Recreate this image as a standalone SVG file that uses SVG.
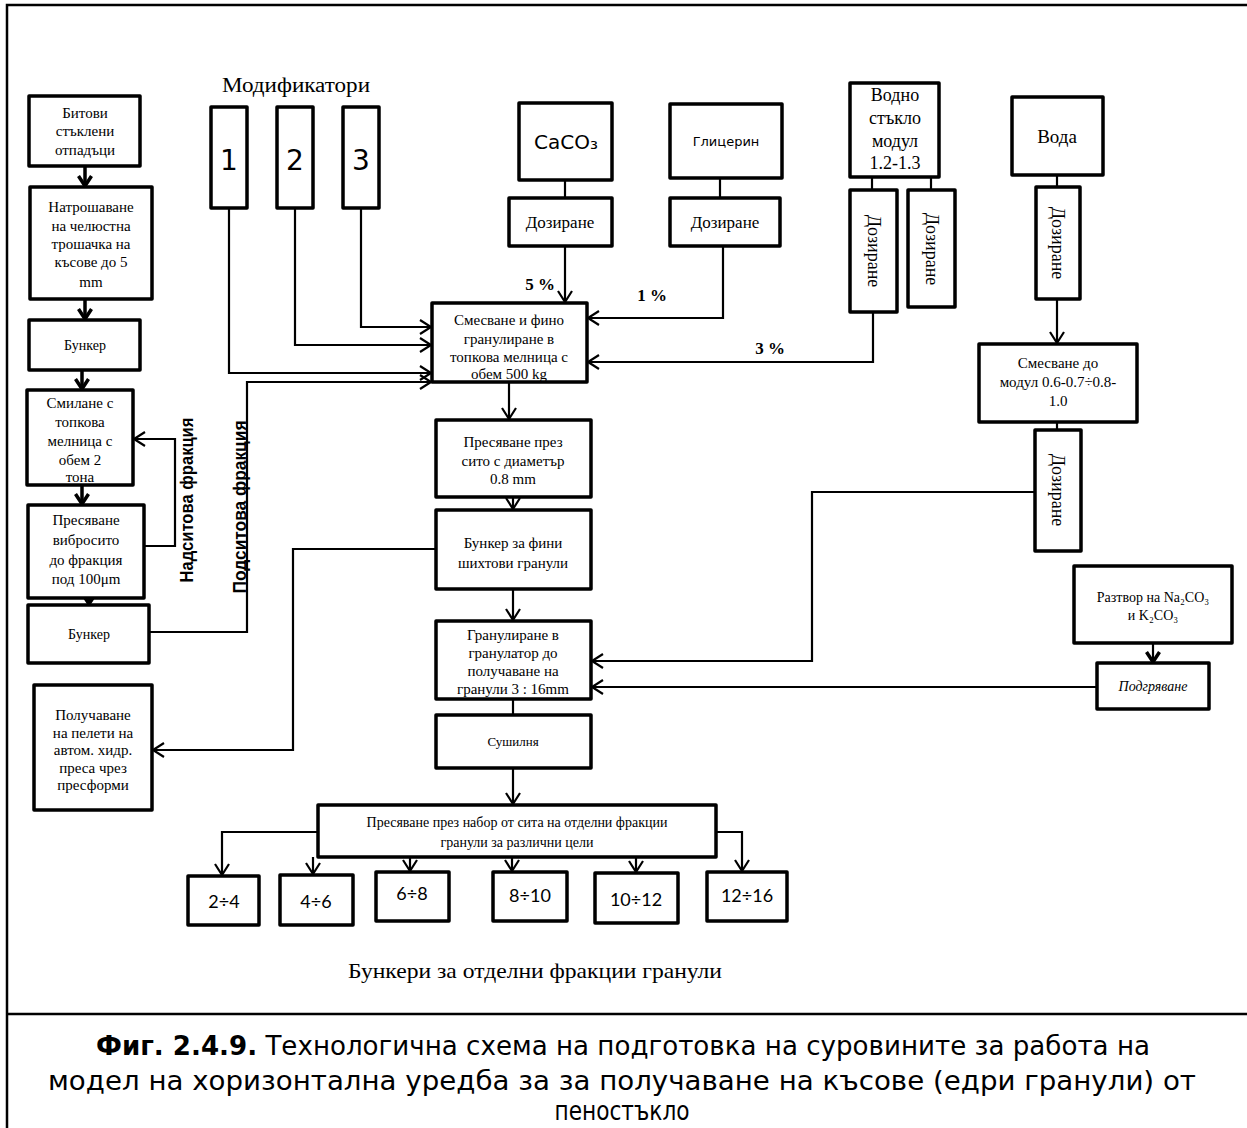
<svg xmlns="http://www.w3.org/2000/svg" width="1247" height="1128" viewBox="0 0 1247 1128">
<style>
.b{fill:#fff;stroke:#000;stroke-width:3.5;stroke-linejoin:round}
.t{font-family:"Liberation Serif","Times New Roman",serif;font-size:15px;fill:#000;text-anchor:middle}
.s{font-family:"DejaVu Sans","Verdana",sans-serif;fill:#000;text-anchor:middle}
.n{font-family:Lato,"Open Sans",sans-serif;font-size:18px;fill:#000;text-anchor:middle}
.c{fill:none;stroke:#000;stroke-width:2.2}
.ct{fill:none;stroke:#000;stroke-width:3.5}
.lb{font-family:"Liberation Serif",serif;font-weight:bold;font-size:17px;text-anchor:middle}
.rl{font-family:"Liberation Sans Narrow","Liberation Sans",sans-serif;font-weight:bold;font-size:18px;text-anchor:middle}
.cap{font-family:"DejaVu Sans",Verdana,sans-serif;font-size:26px;text-anchor:middle;fill:#000}
</style>
<defs>
<marker id="a" markerUnits="userSpaceOnUse" markerWidth="16" markerHeight="16" refX="13" refY="8" orient="auto">
<path d="M2,1 L13,8 L2,15" fill="none" stroke="#000" stroke-width="2.2"/>
</marker>
<marker id="at" markerUnits="userSpaceOnUse" markerWidth="16" markerHeight="16" refX="13" refY="8" orient="auto">
<path d="M3,1.5 L13,8 L3,14.5" fill="none" stroke="#000" stroke-width="3.5"/>
</marker>
</defs>

<g id="frame" fill="none" stroke="#000" stroke-width="2.5">
<path d="M7,1128 V5 H1247"/>
<path d="M7,1014 H1247"/>
</g>

<g id="connectors">
<path class="ct" d="M85,166 V186" marker-end="url(#at)"/>
<path class="ct" d="M85,299 V319" marker-end="url(#at)"/>
<path class="ct" d="M82,370 V389" marker-end="url(#at)"/>
<path class="ct" d="M82,485 V504" marker-end="url(#at)"/>
<path class="ct" d="M89,598 V604" marker-end="url(#at)"/>
<path class="c" d="M144,546 H175 V439 H134" marker-end="url(#a)"/>
<path class="c" d="M149,632 H247 V382 H431" marker-end="url(#a)"/>
<path class="c" d="M229,208 V373 H431" marker-end="url(#a)"/>
<path class="c" d="M295,208 V345 H431" marker-end="url(#a)"/>
<path class="c" d="M361,208 V327 H431" marker-end="url(#a)"/>
<path class="c" d="M565,180 V198"/>
<path class="c" d="M565,246 V302" marker-end="url(#a)"/>
<path class="c" d="M720,178 V198"/>
<path class="c" d="M723,246 V318 H588" marker-end="url(#a)"/>
<path class="c" d="M872,177 V190"/>
<path class="c" d="M931,177 V190"/>
<path class="c" d="M873,312 V362 H588" marker-end="url(#a)"/>
<path class="c" d="M1057,175 V187"/>
<path class="c" d="M1057,299 V343" marker-end="url(#a)"/>
<path class="c" d="M1057,422 V430"/>
<path class="c" d="M1035,492 H812 V661 H592" marker-end="url(#a)"/>
<path class="c" d="M1153,643 V662" marker-end="url(#at)"/>
<path class="c" d="M1097,687 H592" marker-end="url(#a)"/>
<path class="c" d="M509,382 V419" marker-end="url(#a)"/>
<path class="c" d="M513,497 V509" marker-end="url(#a)"/>
<path class="c" d="M513,589 V620" marker-end="url(#a)"/>
<path class="c" d="M513,699 V715"/>
<path class="c" d="M513,768 V804" marker-end="url(#a)"/>
<path class="c" d="M436,549 H293 V750 H153" marker-end="url(#a)"/>
<path class="c" d="M318,832 H222 V875" marker-end="url(#a)"/>
<path class="c" d="M716,832 H742 V871" marker-end="url(#a)"/>
<path class="c" d="M313,857 V874" marker-end="url(#a)"/>
<path class="c" d="M410,857 V871" marker-end="url(#a)"/>
<path class="c" d="M512,857 V871" marker-end="url(#a)"/>
<path class="c" d="M636,857 V872" marker-end="url(#a)"/>
</g>

<g id="labels">
<text class="lb" x="540" y="290">5 %</text>
<text class="lb" x="652" y="301">1 %</text>
<text class="lb" x="770" y="354">3 %</text>
<text class="rl" transform="translate(193,500) rotate(-90)" textLength="165" lengthAdjust="spacingAndGlyphs">Надситова  фракция</text>
<text class="rl" transform="translate(246,507) rotate(-90)" textLength="173" lengthAdjust="spacingAndGlyphs">Подситова фракция</text>
<text class="t" x="296" y="92" style="font-size:20px" textLength="148" lengthAdjust="spacingAndGlyphs">Модификатори</text>
<text class="t" x="535" y="978" style="font-size:21px" textLength="374" lengthAdjust="spacingAndGlyphs">Бункери за  отделни фракции  гранули</text>
</g>

<g id="n-bitovi"><rect class="b" x="29" y="96" width="111" height="70"/>
<text class="t" x="85" y="118">Битови</text><text class="t" x="85" y="136">стъклени</text><text class="t" x="85" y="155">отпадъци</text></g>
<g id="n-natroshavane"><rect class="b" x="30" y="187" width="122" height="112"/>
<text class="t" x="91" y="212">Натрошаване</text><text class="t" x="91" y="231">на челюстна</text><text class="t" x="91" y="249">трошачка на</text><text class="t" x="91" y="267">късове до 5</text><text class="t" x="91" y="287">mm</text></g>
<g id="n-bunker1"><rect class="b" x="29" y="320" width="111" height="50"/>
<text class="t" x="85" y="350" style="font-size:14px">Бункер</text></g>
<g id="n-smilane"><rect class="b" x="27" y="390" width="106" height="95"/>
<text class="t" x="80" y="408">Смилане с</text><text class="t" x="80" y="427">топкова</text><text class="t" x="80" y="446">мелница с</text><text class="t" x="80" y="465">обем 2</text><text class="t" x="80" y="482">тона</text></g>
<g id="n-presyavane1"><rect class="b" x="28" y="505" width="116" height="93"/>
<text class="t" x="86" y="525">Пресяване</text><text class="t" x="86" y="545">вибросито</text><text class="t" x="86" y="565">до фракция</text><text class="t" x="86" y="584">под 100μm</text></g>
<g id="n-bunker2"><rect class="b" x="28" y="605" width="121" height="58"/>
<text class="t" x="89" y="639" style="font-size:14px">Бункер</text></g>
<g id="n-peleti"><rect class="b" x="34" y="685" width="118" height="125"/>
<text class="t" x="93" y="720">Получаване</text><text class="t" x="93" y="738">на пелети на</text><text class="t" x="93" y="755">автом. хидр.</text><text class="t" x="93" y="773">преса чрез</text><text class="t" x="93" y="790">пресформи</text></g>

<g id="n-mod1"><rect class="b" x="211" y="107" width="36" height="101"/><text class="s" x="229" y="170" style="font-size:28px">1</text></g>
<g id="n-mod2"><rect class="b" x="277" y="107" width="36" height="101"/><text class="s" x="295" y="170" style="font-size:28px">2</text></g>
<g id="n-mod3"><rect class="b" x="343" y="107" width="36" height="101"/><text class="s" x="361" y="170" style="font-size:28px">3</text></g>

<g id="n-caco3"><rect class="b" x="519" y="103" width="93" height="77"/><text class="s" x="566" y="149" style="font-size:20px">CaCO₃</text></g>
<g id="n-doz1"><rect class="b" x="509" y="198" width="103" height="48"/><text class="t" x="560" y="228" style="font-size:17px">Дозиране</text></g>
<g id="n-glicerin"><rect class="b" x="670" y="104" width="112" height="74"/><text class="s" x="726" y="146" style="font-size:13px">Глицерин</text></g>
<g id="n-doz2"><rect class="b" x="670" y="198" width="110" height="48"/><text class="t" x="725" y="228" style="font-size:17px">Дозиране</text></g>

<g id="n-vodno"><rect class="b" x="850" y="83" width="89" height="94"/>
<text class="t" x="895" y="101" style="font-size:18px">Водно</text><text class="t" x="895" y="124" style="font-size:18px">стъкло</text><text class="t" x="895" y="147" style="font-size:18px">модул</text><text class="t" x="895" y="169" style="font-size:18px">1.2-1.3</text></g>
<g id="n-doz3"><rect class="b" x="850" y="190" width="47" height="122"/><text class="t" transform="translate(873.5,251) rotate(90)" dy="6" style="font-size:18px">Дозиране</text></g>
<g id="n-doz4"><rect class="b" x="908" y="190" width="47" height="117"/><text class="t" transform="translate(931.5,249) rotate(90)" dy="6" style="font-size:18px">Дозиране</text></g>
<g id="n-voda"><rect class="b" x="1012" y="97" width="91" height="78"/><text class="t" x="1057" y="143" style="font-size:19px">Вода</text></g>
<g id="n-doz5"><rect class="b" x="1036" y="187" width="44" height="112"/><text class="t" transform="translate(1058,243) rotate(90)" dy="6" style="font-size:18px">Дозиране</text></g>
<g id="n-smesvane-modul"><rect class="b" x="979" y="344" width="158" height="78"/>
<text class="t" x="1058" y="368">Смесване  до</text><text class="t" x="1058" y="387">модул 0.6-0.7÷0.8-</text><text class="t" x="1058" y="406">1.0</text></g>
<g id="n-doz6"><rect class="b" x="1035" y="430" width="46" height="121"/><text class="t" transform="translate(1058,490) rotate(90)" dy="6" style="font-size:18px">Дозиране</text></g>
<g id="n-rastvor"><rect class="b" x="1074" y="566" width="158" height="77"/>
<text class="t" x="1153" y="602" style="font-size:14px">Разтвор на Na₂CO₃</text><text class="t" x="1153" y="620" style="font-size:14px">и K₂CO₃</text></g>
<g id="n-podgryavane"><rect class="b" x="1097" y="663" width="112" height="46"/><text class="t" x="1153" y="691" style="font-size:14px;font-style:italic">Подгряване</text></g>

<g id="n-mix"><rect class="b" x="432" y="303" width="155" height="79"/>
<text class="t" x="509" y="325">Смесване и фино</text><text class="t" x="509" y="344">гранулиране в</text><text class="t" x="509" y="362">топкова мелница с</text><text class="t" x="509" y="379">обем 500 kg</text></g>
<g id="n-sito"><rect class="b" x="436" y="420" width="155" height="77"/>
<text class="t" x="513" y="447">Пресяване през</text><text class="t" x="513" y="466">сито с диаметър</text><text class="t" x="513" y="484">0.8 mm</text></g>
<g id="n-bunker-fini"><rect class="b" x="436" y="510" width="155" height="79"/>
<text class="t" x="513" y="548">Бункер за фини</text><text class="t" x="513" y="568">шихтови гранули</text></g>
<g id="n-granulirane"><rect class="b" x="436" y="621" width="155" height="78"/>
<text class="t" x="513" y="640">Гранулиране в</text><text class="t" x="513" y="658">гранулатор до</text><text class="t" x="513" y="676">получаване  на</text><text class="t" x="513" y="694">гранули 3 : 16mm</text></g>
<g id="n-sushilnya"><rect class="b" x="436" y="715" width="155" height="53"/><text class="t" x="513" y="746" style="font-size:13px">Сушилня</text></g>

<g id="n-nabor"><rect class="b" x="318" y="805" width="398" height="52"/>
<text class="t" x="517" y="827" style="font-size:14px">Пресяване през набор от сита  на отделни фракции</text><text class="t" x="517" y="847" style="font-size:14px">гранули за различни цели</text></g>
<g id="n-f1"><rect class="b" x="188" y="876" width="71" height="49"/><text class="n" x="224" y="908">2÷4</text></g>
<g id="n-f2"><rect class="b" x="280" y="875" width="73" height="50"/><text class="n" x="316" y="908">4÷6</text></g>
<g id="n-f3"><rect class="b" x="376" y="872" width="73" height="49"/><text class="n" x="412" y="900">6÷8</text></g>
<g id="n-f4"><rect class="b" x="493" y="872" width="74" height="49"/><text class="n" x="530" y="902">8÷10</text></g>
<g id="n-f5"><rect class="b" x="595" y="873" width="83" height="50"/><text class="n" x="636" y="906">10÷12</text></g>
<g id="n-f6"><rect class="b" x="707" y="872" width="80" height="49"/><text class="n" x="747" y="902">12÷16</text></g>

<g id="caption">
<text class="cap" x="623" y="1055" textLength="1054" lengthAdjust="spacingAndGlyphs"><tspan font-weight="bold">Фиг. 2.4.9.</tspan> Технологична схема на подготовка на суровините за работа на</text>
<text class="cap" x="622" y="1090" textLength="1148" lengthAdjust="spacingAndGlyphs">модел на хоризонтална уредба за за получаване на късове (едри гранули) от</text>
<text class="cap" x="622" y="1120" textLength="135" lengthAdjust="spacingAndGlyphs">пеностъкло</text>
</g>
</svg>
